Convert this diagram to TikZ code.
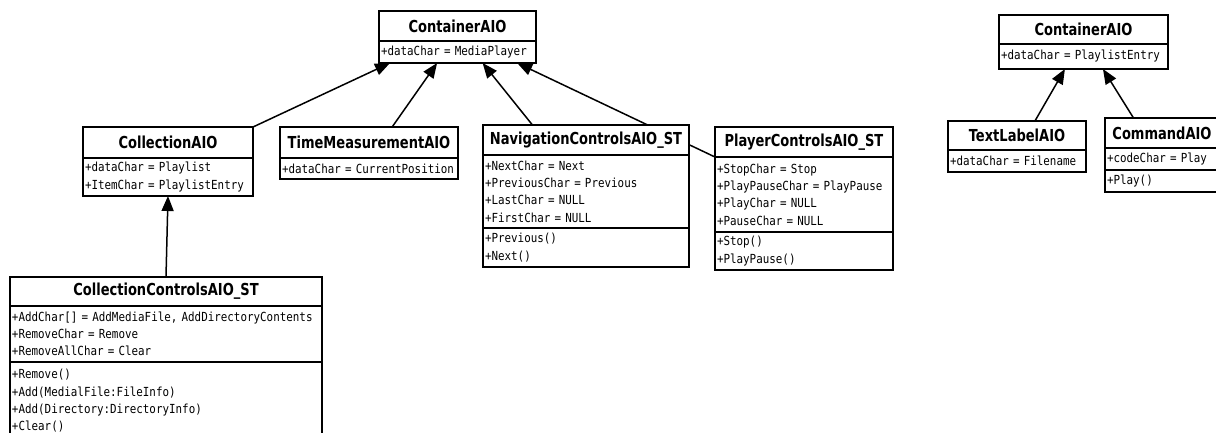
\documentclass[tikz,border=0pt]{standalone}
\usepackage{fontspec}
\newfontfamily\hdrfont{DejaVu Sans}[FakeStretch=0.79]
\newfontfamily\codefont{DejaVu Sans Mono}[FakeStretch=0.87]
\usetikzlibrary{arrows.meta,calc,backgrounds}
\tikzset{
  box/.style={draw=black, line width=1.5pt, fill=white, anchor=north west, inner sep=0pt, outer sep=0pt},
  hdr/.style={box, align=center, font=\hdrfont\bfseries\fontsize{16.5}{18}\selectfont},
  sec/.style={box, align=left, inner xsep=2pt, inner ysep=0pt, font=\codefont\fontsize{12.5}{17.3}\selectfont},
  inh/.style={line width=1.5pt, -{Triangle[length=15pt,width=12pt]}},
}
\begin{document}
\begin{tikzpicture}[x=1pt,y=-1pt]
\path[use as bounding box, clip] (0,0) rectangle (1216,433);

% ---- left group ----
\node[hdr, minimum width=157pt, minimum height=30pt] (cont) at (379,11) {ContainerAIO};
\node[sec, text width=153pt, minimum height=22pt] (conta) at (cont.south west) {+dataChar = MediaPlayer};

\node[hdr, minimum width=170pt, minimum height=31pt] (coll) at (83,127) {CollectionAIO};
\node[sec, text width=166pt, minimum height=38pt] (colla) at (coll.south west) {+dataChar = Playlist\\+ItemChar = PlaylistEntry};

\node[hdr, minimum width=178pt, minimum height=31pt] (time) at (280,127) {TimeMeasurementAIO};
\node[sec, text width=174pt, minimum height=21pt] (timea) at (time.south west) {+dataChar = CurrentPosition};

\node[hdr, minimum width=206pt, minimum height=30pt] (nav) at (483,125) {NavigationControlsAIO\_ST};
\node[sec, text width=202pt, minimum height=73pt] (nava) at (nav.south west) {+NextChar = Next\\+PreviousChar = Previous\\+LastChar = NULL\\+FirstChar = NULL};
\node[sec, text width=202pt, minimum height=39pt] (navm) at (nava.south west) {+Previous()\\+Next()};

\node[hdr, minimum width=178pt, minimum height=30pt] (play) at (715,127) {PlayerControlsAIO\_ST};
\node[sec, text width=174pt, minimum height=75pt] (playa) at (play.south west) {+StopChar = Stop\\+PlayPauseChar = PlayPause\\+PlayChar = NULL\\+PauseChar = NULL};
\node[sec, text width=174pt, minimum height=38pt] (playm) at (playa.south west) {+Stop()\\+PlayPause()};

\node[hdr, minimum width=312pt, minimum height=29pt] (cc) at (10,277) {CollectionControlsAIO\_ST};
\node[sec, text width=308pt, minimum height=56pt] (cca) at (cc.south west) {+AddChar[] = AddMediaFile, AddDirectoryContents\\+RemoveChar = Remove\\+RemoveAllChar = Clear};
\node[sec, text width=308pt, minimum height=78pt] (ccm) at (cca.south west) {+Remove()\\+Add(MedialFile:FileInfo)\\+Add(Directory:DirectoryInfo)\\+Clear()};

% ---- right group ----
\node[hdr, minimum width=169pt, minimum height=29pt] (cont2) at (999,15) {ContainerAIO};
\node[sec, text width=165pt, minimum height=25pt] (cont2a) at (cont2.south west) {+dataChar = PlaylistEntry};

\node[hdr, minimum width=138pt, minimum height=29pt] (tl) at (948,121) {TextLabelAIO};
\node[sec, text width=134pt, minimum height=22pt] (tla) at (tl.south west) {+dataChar = Filename};

\node[hdr, minimum width=114pt, minimum height=30pt] (cmd) at (1105,118) {CommandAIO};
\node[sec, text width=110pt, minimum height=22pt] (cmda) at (cmd.south west) {+codeChar = Play};
\node[sec, text width=110pt, minimum height=22pt] (cmdm) at (cmda.south west) {+Play()};

% ---- connectors ----
\begin{scope}[on background layer]
\fill[white] (0,0) rectangle (1216,433);
\draw[inh] (coll.north east) -- ($(conta.south west)!0.07!(conta.south east)$);
\draw[inh] ($(time.north west)!0.63!(time.north east)$) -- ($(conta.south west)!0.37!(conta.south east)$);
\draw[inh] ($(nav.north west)!0.24!(nav.north east)$) -- ($(conta.south west)!0.66!(conta.south east)$);
\draw[inh] (play.south west) -- ($(conta.south west)!0.88!(conta.south east)$);
\draw[inh] (cc.north) -- (colla.south);
\draw[inh] ($(tl.north west)!0.63!(tl.north east)$) -- ($(cont2a.south west)!0.39!(cont2a.south east)$);
\draw[inh] ($(cmd.north west)!0.25!(cmd.north east)$) -- ($(cont2a.south west)!0.615!(cont2a.south east)$);
\end{scope}
\end{tikzpicture}
\end{document}
